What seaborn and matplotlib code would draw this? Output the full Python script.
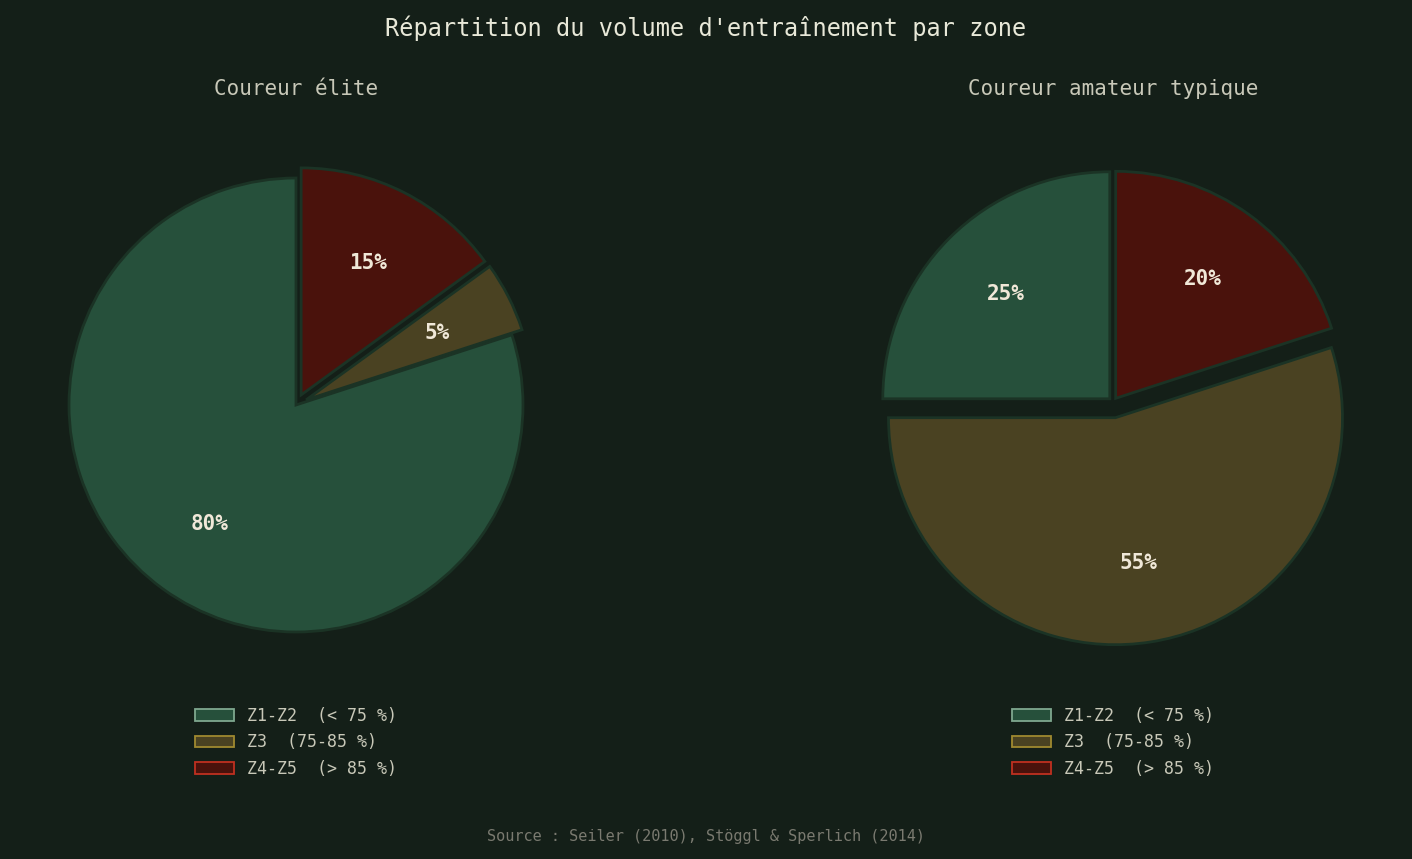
import matplotlib
matplotlib.use("Agg")
import matplotlib.pyplot as plt
from matplotlib.patches import Patch
import seaborn as sns

sns.set_theme(style="dark")
plt.rcParams["font.family"] = ["DejaVu Sans Mono", "DejaVu Sans"]

zones = ["Z1-Z2  (< 75 %)", "Z3  (75-85 %)", "Z4-Z5  (> 85 %)"]
elite = [80, 5, 15]
amateur = [25, 55, 20]
titles = ["Coureur élite", "Coureur amateur typique"]

bg = "#141f18"
fills = ["#26503b", "#4a4222", "#4a120c"]
edges = ["#7fa88f", "#a08a30", "#c03020"]

W, H = 1412, 859
fig = plt.figure(figsize=(W / 100, H / 100), dpi=100)
fig.patch.set_facecolor(bg)

centers = [(296, 405), (1113, 402)]
explodes = [[0, 0.05, 0.05], [0.02, 0.07, 0.02]]
R = 227
half = 1.15 * R
for (cx, cy), vals, title, ex in zip(centers, [elite, amateur], titles, explodes):
    ax = fig.add_axes([(cx - half) / W, (H - cy - half) / H, 2 * half / W, 2 * half / H])
    ax.set_facecolor(bg)
    ax.pie(
        vals, colors=fills, startangle=90, counterclock=True, explode=ex,
        autopct="%d%%", pctdistance=0.65,
        wedgeprops=dict(edgecolor="#1b3325", linewidth=2),
        textprops=dict(color="#f0e8d8", fontsize=15, fontweight="bold"),
    )
    ax.set_xlim(-1.15, 1.15)
    ax.set_ylim(-1.15, 1.15)
    ax.set_aspect("equal")
    ax.axis("off")
    fig.text(cx / W, 1 - 89 / H, title, ha="center", va="center", color="#c8c8b8", fontsize=15)
    handles = [Patch(facecolor=f, edgecolor=e, linewidth=1.3, label=z)
               for f, e, z in zip(fills, edges, zones)]
    fig.legend(handles=handles, loc="upper center", bbox_to_anchor=(cx / W, 1 - 692 / H),
               frameon=False, fontsize=12, labelcolor="#c8c8b8", handlelength=2.3)

fig.text(0.5, 1 - 28 / H, "Répartition du volume d'entraînement par zone", ha="center",
         va="center", color="#e8e8d8", fontsize=17)
fig.text(0.5, 1 - 837 / H, "Source : Seiler (2010), Stöggl & Sperlich (2014)", ha="center",
         va="center", color="#7a7a70", fontsize=11)
fig.savefig("out.png", facecolor=bg)
